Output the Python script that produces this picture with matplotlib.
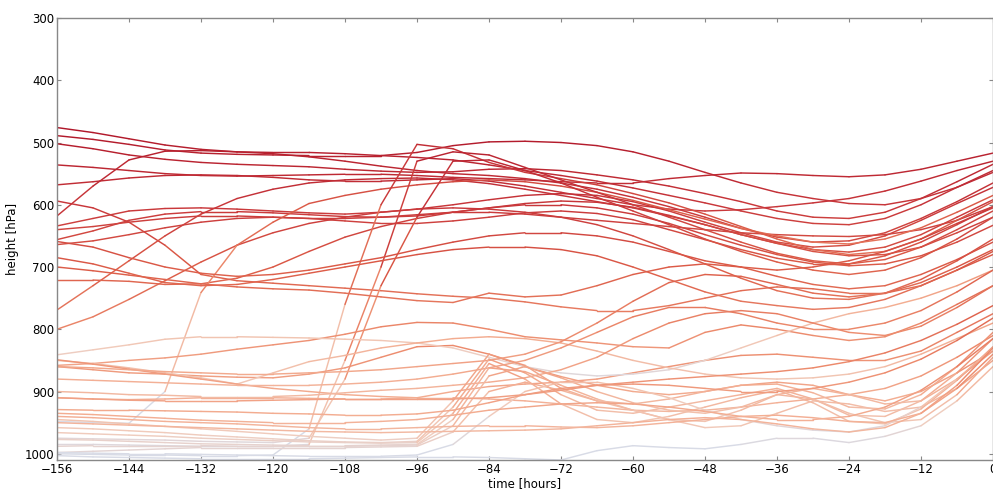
import numpy as np
import matplotlib
matplotlib.use("Agg")
import matplotlib.pyplot as plt
from matplotlib.collections import LineCollection
from matplotlib.colors import LinearSegmentedColormap, Normalize

hours = [-156, -150, -144, -138, -132, -126, -120, -114, -108, -102, -96, -90, -84,
         -78, -72, -66, -60, -54, -48, -42, -36, -30, -24, -18, -12, -6, 0]

# dark upper trajectories
D1 = [476,484,494,504,511,515,516,516,518,521,524,528,536,545,553,562,573,585,597,610,622,630,632,622,600,572,545]
D2 = [489,495,503,512,517,519,520,521,521,521,516,505,499,498,500,505,515,530,548,565,580,590,598,600,590,572,548]
D3 = [502,510,520,527,532,535,537,539,543,546,548,547,543,542,545,552,560,570,582,595,610,620,622,612,590,563,535]
D4 = [536,540,545,550,553,554,553,552,551,551,553,556,558,560,563,565,565,558,553,549,550,553,555,552,543,530,517]
D5 = [568,563,557,553,552,553,556,560,562,562,560,558,562,570,580,590,600,607,610,608,603,597,590,578,562,545,530]
D6 = [594,605,628,665,712,722,726,730,734,738,743,747,750,756,764,770,770,762,750,738,732,735,742,742,730,705,675]
D7 = [618,570,528,514,513,515,518,523,530,538,545,550,553,558,565,575,588,603,620,638,652,660,658,645,622,595,565]
D8 = [634,622,610,606,605,607,610,613,615,612,607,600,592,585,582,585,595,610,628,645,660,668,665,650,625,598,572]
D9 = [656,642,625,615,611,611,613,616,619,620,618,612,605,598,594,596,604,617,632,648,662,672,676,668,648,620,592]
D10 = [664,658,648,637,628,622,620,622,626,630,630,626,620,613,610,614,624,640,656,672,686,695,695,682,660,632,603]
D11 = [640,635,628,622,618,618,620,622,622,620,616,612,612,615,620,625,630,635,640,645,648,650,651,648,640,625,603]

# climbers on the left
C1 = [769,730,690,650,615,590,575,565,560,558,557,560,566,575,585,595,605,618,632,648,662,675,682,680,668,645,620]
C2 = [800,780,752,722,692,665,645,630,620,612,607,605,607,612,620,632,650,672,695,718,738,750,752,742,720,690,655]
C3 = [721,721,723,728,727,718,700,675,652,635,622,612,605,600,600,605,615,630,648,665,680,692,698,695,682,660,633]
M4 = [948,950,951,900,741,665,628,598,585,575,568,563,560,563,570,580,593,608,623,638,650,660,663,655,637,612,585]

# steep climbers in the middle
M1 = [1000,1001,1002,1002,1003,1003,1002,960,760,600,503,510,532,548,558,568,582,597,615,635,655,672,680,675,655,625,595]
M2 = [985,985,986,987,988,988,988,985,850,700,530,515,520,540,560,580,600,620,640,660,678,690,695,688,668,640,610]
M3 = [975,976,977,978,980,981,982,975,880,730,620,530,528,545,565,588,610,632,655,675,692,705,712,705,685,655,620]

# orange middle trajectories
O1 = [659,668,685,700,710,715,712,705,695,685,672,660,650,645,645,650,660,675,690,700,705,700,690,675,655,630,605]
O2 = [685,695,710,725,730,728,720,710,700,690,680,672,668,668,672,682,700,720,740,755,762,768,765,752,730,705,680]
N1 = [700,706,713,720,727,732,735,737,742,748,754,757,742,748,745,730,712,700,695,700,715,728,735,730,712,688,660]
N2 = [858,855,850,846,840,832,825,818,808,796,789,790,800,812,817,822,828,830,805,793,800,810,818,812,790,760,730]
N3 = [860,865,870,872,875,877,878,872,862,845,828,826,840,860,876,890,900,905,900,890,885,890,905,915,900,870,835]
N4 = [910,912,913,912,910,910,910,911,912,912,910,900,892,888,885,880,870,860,850,842,840,845,850,850,835,805,775]
N5 = [841,833,825,816,812,812,813,814,816,818,822,830,845,860,870,875,872,865,850,830,810,790,775,765,750,730,705]
N6 = [850,855,862,870,878,888,870,852,842,830,822,815,812,815,822,835,850,862,872,878,880,878,872,860,840,815,790]
E1 = [849,856,864,872,880,888,895,900,905,908,910,910,912,915,920,925,930,932,930,925,918,912,905,895,875,845,810]
R1 = [860,862,865,868,870,872,872,870,868,865,860,855,850,840,820,790,755,725,712,715,728,742,748,742,725,700,672]
R2 = [880,882,884,886,888,890,890,890,888,885,880,872,862,850,830,805,780,765,765,775,790,800,800,790,770,740,705]
R3 = [900,902,905,906,908,908,908,906,902,898,895,890,885,878,865,845,815,790,775,770,775,790,805,810,795,765,730]

# low trajectories with the bump near -84 h
K1 = [945,948,952,956,960,964,968,972,975,978,975,915,840,858,895,915,920,912,900,890,888,902,925,928,905,860,805]
K2 = [958,960,963,966,970,973,976,979,981,982,980,925,848,870,905,930,935,925,915,905,895,912,938,940,915,870,815]
K3 = [966,968,970,972,975,977,979,981,982,983,982,935,855,880,920,945,950,940,925,910,898,918,948,952,928,882,828]
K4 = [977,978,980,982,984,985,986,987,987,986,985,945,862,868,890,912,930,945,948,930,905,912,935,950,945,905,845]
K5 = [988,987,987,987,987,988,988,988,988,987,986,955,875,860,878,900,918,930,935,925,905,895,905,920,915,880,835]
K6 = [998,996,994,992,990,990,990,990,990,989,988,965,900,885,898,915,930,945,958,955,935,915,920,932,925,895,850]
K7 = [998,999,1000,1000,1001,1002,1003,1004,1004,1004,1002,985,940,900,885,885,895,910,930,945,955,962,965,955,925,880,830]

# low flat trajectories
L1 = [940,942,945,948,950,952,955,958,960,960,958,956,955,955,957,958,955,950,945,940,938,942,948,950,935,895,840]
L2 = [950,952,954,956,958,960,962,964,965,966,965,964,963,962,960,955,950,945,942,945,952,960,965,958,935,890,830]
L3 = [1003,1005,1006,1007,1008,1008,1008,1008,1007,1006,1005,1005,1006,1008,1010,995,987,990,992,985,975,975,982,972,955,915,860]
B1 = [910,912,914,915,915,915,914,913,912,912,912,912,910,905,898,890,885,880,876,872,868,862,852,838,818,792,762]
B2 = [929,930,930,931,932,933,935,936,938,938,936,930,918,905,895,890,888,890,895,900,900,895,885,870,848,818,782]
B3 = [935,937,940,943,946,948,950,950,950,948,945,938,930,925,920,918,920,925,932,940,945,945,940,925,898,860,815]

trajectories = [D1, D2, D3, D4, D5, D6, D7, D8, D9, D10, D11,
                C1, C2, C3, M4, M1, M2, M3,
                O1, O2, N1, N2, N3, N4, N5, N6, E1, R1, R2, R3,
                K1, K2, K3, K4, K5, K6, K7, L1, L2, L3, B1, B2, B3]

# colour shift per trajectory (hPa added before colour lookup)
tones = [0, 0, 0, 0, 0, 0, 0, 0, 0, 0, 0,
         0, 0, 0, 90, 60, 10, 10,
         0, 0, 0, 0, -30, -30, 120, 60, -30, 0, 0, 0,
         -15, -15, -15, -10, -10, -10, 30, -60, -60, 20, -60, -60, -60]

cmap = LinearSegmentedColormap.from_list(
    "traj",
    [(0.000, "#b0172a"), (0.226, "#c8363a"), (0.415, "#dc5b47"), (0.604, "#ec8a6c"),
     (0.755, "#f3ae93"), (0.887, "#f1cbbb"), (1.000, "#d8dbe6")])
norm = Normalize(480, 1010)

fig = plt.figure(figsize=(9.93, 4.91), dpi=100)
ax = fig.add_axes([57 / 993, 31 / 491, 936 / 993, 442 / 491])

x = np.array(hours, dtype=float)
for tr, tone in zip(trajectories, tones):
    y = np.array(tr, dtype=float)
    pts = np.column_stack([x, y])
    segs = np.stack([pts[:-1], pts[1:]], axis=1)
    mid = 0.5 * (y[:-1] + y[1:]) + tone
    lc = LineCollection(segs, colors=cmap(norm(mid)), linewidths=1.05,
                        capstyle="round", joinstyle="round")
    ax.add_collection(lc)

ax.set_xlim(-156, 0)
ax.set_ylim(1010, 300)
ax.set_xticks(list(range(-156, 1, 12)))
ax.set_yticks(list(range(300, 1001, 100)))
ax.tick_params(direction="in", top=True, right=True, length=3, width=0.8,
               color="#888888", labelsize=8.5, pad=2)
for s in ax.spines.values():
    s.set_color("#888888")
    s.set_linewidth(1.0)
ax.set_xlabel("time [hours]", fontsize=8.5, labelpad=1)
ax.set_ylabel("height [hPa]", fontsize=8.5, labelpad=4)

fig.savefig("out.png", dpi=100)
